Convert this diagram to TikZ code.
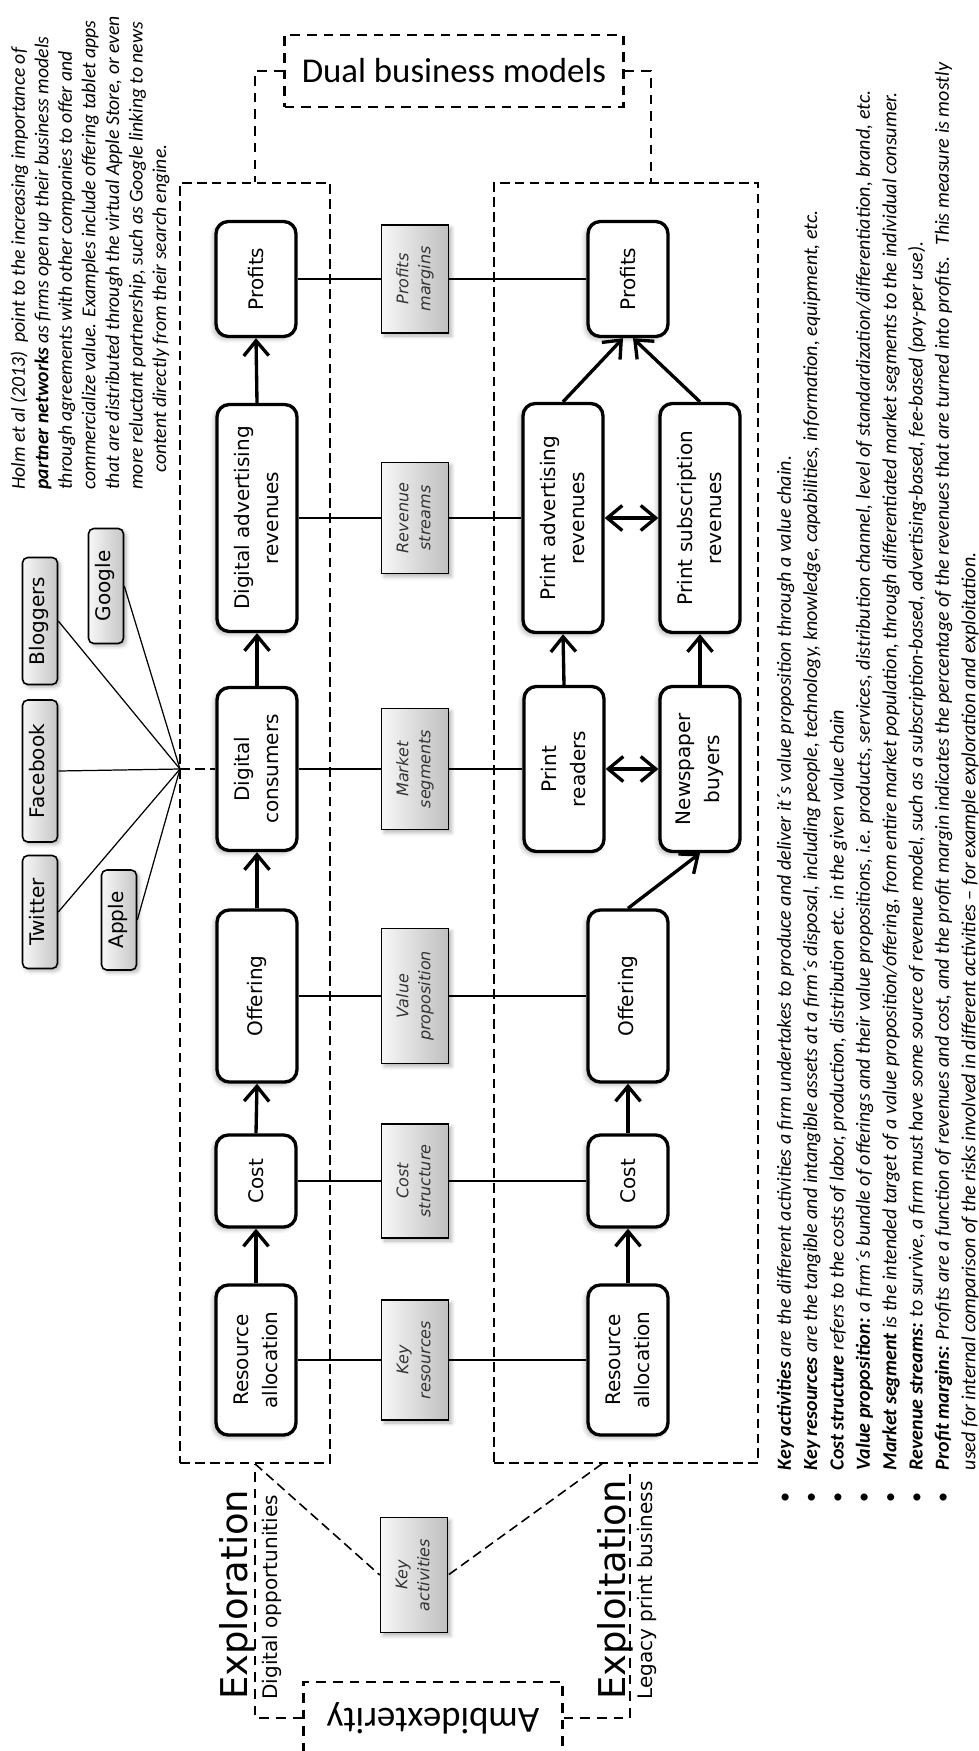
\documentclass[tikz,border=0pt]{standalone}
\usepackage{fontspec}
\usepackage{graphicx}
\setmainfont{DejaVu Sans}
\newfontfamily\calfont{Carlito}
\usetikzlibrary{arrows.meta,calc,shadows.blur}

\newcommand{\turntext}[1]{\rotatebox{90}{\begin{tabular}{@{}c@{}}#1\end{tabular}}}

\tikzset{
  stage/.style={draw, line width=1.9pt, rounded corners=7pt, fill=white, rotate=90,
    align=center, font=\fontsize{11.4}{16.5}\selectfont, minimum height=1.6cm, inner sep=2pt,
    blur shadow={shadow xshift=-0.6mm, shadow yshift=-0.6mm, shadow opacity=25, shadow blur steps=5}},
  metric/.style={draw, line width=0.8pt, left color=gray!6, right color=gray!50,
    font=\fontsize{9.1}{12.5}\selectfont\itshape, text=black!80,
    minimum width=1.34cm, inner sep=1pt,
    blur shadow={shadow xshift=0.6mm, shadow yshift=-0.6mm, shadow opacity=30, shadow blur steps=5}},
  partner/.style={draw, line width=0.9pt, rounded corners=3pt, left color=gray!6,
    right color=gray!45, font=\fontsize{11.4}{14}\selectfont, minimum width=0.7cm, inner sep=1pt,
    blur shadow={shadow xshift=0.5mm, shadow yshift=-0.5mm, shadow opacity=30, shadow blur steps=4}},
  zone/.style={draw, line width=0.9pt, dash pattern=on 5.5pt off 3pt},
  headbox/.style={draw, line width=1.3pt, dash pattern=on 5.5pt off 4pt, minimum height=1.44cm,
    font=\calfont\fontsize{19.8}{23}\selectfont},
  bigdash/.style={line width=1.3pt, dash pattern=on 5.5pt off 4pt},
  smalldash/.style={line width=0.9pt, dash pattern=on 5.5pt off 3pt},
  flow/.style={line width=1.9pt, -{Straight Barb[length=3mm, width=5mm]}},
  twoway/.style={line width=1.9pt, {Straight Barb[length=3mm, width=5mm]}-{Straight Barb[length=3mm, width=5mm]}},
  rowlink/.style={line width=0.7pt},
  sidelabel/.style={rotate=90, anchor=base west, inner sep=0pt}
}

\begin{document}
\begin{tikzpicture}[x=0.2mm, y=-0.2mm]
  \useasboundingbox (0,0) rectangle (979,1751);

  % Dashed regions
  \node[zone, minimum width=3cm, minimum height=25.6cm] (explore) at (255,823) {};
  \node[zone, minimum width=5.28cm, minimum height=25.6cm] (exploit) at (626,823) {};

  % Headline boxes
  \node[headbox, minimum width=6.78cm] (dual) at (454,71) {Dual business models};
  \node[headbox, rotate=180, minimum width=5.18cm, font=\calfont\fontsize{21}{24}\selectfont] (ambi) at (433,1718) {Ambidexterity};

  % Exploration: digital business
  \node[stage, minimum width=2.3cm] (profd) at (256,279) {Profits};
  \node[stage, minimum width=4.54cm] (advd) at (257,518) {Digital advertising\\revenues};
  \node[stage, minimum width=3.26cm] (consd) at (257,769) {Digital\\consumers};
  \node[stage, minimum width=3.44cm] (offd) at (257,996) {Offering};
  \node[stage, minimum width=1.84cm] (costd) at (256,1181) {Cost};
  \node[stage, minimum width=3cm] (resd) at (256,1360) {Resource\\allocation};

  % Exploitation: print business
  \node[stage, minimum width=2.3cm] (profp) at (628,279) {Profits};
  \node[stage, minimum width=4.58cm] (advp) at (563,518) {Print advertising\\revenues};
  \node[stage, minimum width=4.58cm] (subp) at (700,518) {Print subscription\\revenues};
  \node[stage, minimum width=3.3cm] (readp) at (564,769) {Print\\readers};
  \node[stage, minimum width=3.3cm] (buyp) at (700,769) {Newspaper\\buyers};
  \node[stage, minimum width=3.44cm] (offp) at (628,996) {Offering};
  \node[stage, minimum width=1.84cm] (costp) at (628,1181) {Cost};
  \node[stage, minimum width=3cm] (resp) at (628,1360) {Resource\\allocation};

  % Business model elements
  \node[metric, minimum height=2.16cm] (gprof) at (415,279) {\turntext{Profits\\margins}};
  \node[metric, minimum height=2.22cm] (grev) at (415,518) {\turntext{Revenue\\streams}};
  \node[metric, minimum height=2.42cm] (gmark) at (415,769) {\turntext{Market\\segments}};
  \node[metric, minimum height=2.7cm] (gval) at (415,996) {\turntext{Value\\proposition}};
  \node[metric, minimum height=2.28cm] (gcost) at (415,1181) {\turntext{Cost\\structure}};
  \node[metric, minimum height=2.4cm] (gres) at (415,1360) {\turntext{Key\\resources}};
  \node[metric, minimum height=2.3cm] (gact) at (414,1575) {\turntext{Key\\activities}};

  % Partner networks
  \node[partner, minimum height=2.26cm] (twitter) at (40,912) {\turntext{Twitter}};
  \node[partner, minimum height=2.84cm] (facebook) at (40,771) {\turntext{Facebook}};
  \node[partner, minimum height=2.54cm] (bloggers) at (40,621) {\turntext{Bloggers}};
  \node[partner, minimum height=2.3cm] (google) at (106,586) {\turntext{Google}};
  \node[partner, minimum height=2cm] (apple) at (119,920) {\turntext{Apple}};
  \coordinate (fan) at (180,769);
  \foreach \p in {twitter,facebook,bloggers,google,apple}
    \draw[rowlink] (fan) -- (\p.east);
  \draw[smalldash] (fan) -- (consd.north);

  % Value chain arrows
  \draw[flow] (resd.east) -- (costd.west);
  \draw[flow] (costd.east) -- (offd.west);
  \draw[flow] (offd.east) -- (consd.west);
  \draw[flow] (consd.east) -- (advd.west);
  \draw[flow] (advd.east) -- (profd.west);
  \draw[flow] (resp.east) -- (costp.west);
  \draw[flow] (costp.east) -- (offp.west);
  \draw[flow] (offp.east) -- (buyp.west);
  \draw[flow] (readp.east) -- (advp.west);
  \draw[flow] (buyp.east) -- (subp.west);
  \draw[flow] (advp.east) -- ($(profp.west)+(-5,0)$);
  \draw[flow] (subp.east) -- ($(profp.west)+(5,0)$);
  \draw[twoway] (advp.south) -- (subp.north);
  \draw[twoway] (readp.south) -- (buyp.north);

  % Rows through the elements
  \foreach \a/\g/\b in {profd/gprof/profp, advd/grev/advp, consd/gmark/readp,
                        offd/gval/offp, costd/gcost/costp, resd/gres/resp}
    \draw[rowlink] (\a.south) -- (\g.west) (\g.east) -- (\b.north);

  % Dual models and ambidexterity
  \draw[bigdash] (dual.west) -| (explore.north);
  \draw[bigdash] (dual.east) -| ($(exploit.north)+(25,0)$);
  \draw[bigdash] (ambi.east) -| (explore.south);
  \draw[bigdash] (ambi.west) -| ($(exploit.south)+(4,0)$);
  \draw[smalldash] (explore.south) -- (gact.west);
  \draw[smalldash] ($(exploit.south)+(-24,0)$) -- (gact.east);

  % Side labels
  \node[sidelabel, font=\fontsize{21}{25}\selectfont] (explorlab) at (247,1700) {Exploration};
  \node[sidelabel, font=\fontsize{11.4}{14}\selectfont] (digoplab) at (277,1700) {Digital opportunities};
  \node[sidelabel, font=\fontsize{21}{25}\selectfont] (exploitlab) at (625,1700) {Exploitation};
  \node[sidelabel, font=\fontsize{11.4}{14}\selectfont] (legacylab) at (652,1700) {Legacy print business};

  % Partner network note
  \node[rotate=90, anchor=north west, inner sep=0pt, font=\calfont\fontsize{11.2}{13.4}\selectfont\itshape]
    (holm) at (8,490) {\begin{tabular}{@{}l@{}}
    Holm et al (2013)~ point to the increasing importance of\\
    \textbf{partner networks} as firms open up their business models\\
    through agreements with other companies to offer and\\
    commercialize value. Examples include offering tablet apps\\
    that are distributed through the virtual Apple Store, or even\\
    more reluctant partnership, such as Google linking to news\\
    \hspace*{0.34cm}content directly from their search engine.
    \end{tabular}};

  % Definitions
  \node[rotate=90, anchor=north west, inner sep=0pt, font=\calfont\fontsize{11.4}{15}\selectfont\itshape]
    (defs) at (772,1503) {\begin{tabular}{@{}l@{\hspace{0.45cm}}l@{}}
    \upshape• & \textbf{Key activities} are the different activities a firm undertakes to produce and deliver it´s value proposition through a value chain.\\
    \upshape• & \textbf{Key resources} are the tangible and intangible assets at a firm´s disposal, including people, technology, knowledge, capabilities, information, equipment, etc.\\
    \upshape• & \textbf{Cost structure} refers to the costs of labor, production, distribution etc. in the given value chain\\
    \upshape• & \textbf{Value proposition:} a firm´s bundle of offerings and their value propositions, i.e. products, services, distribution channel, level of standardization/differentiation, brand, etc.\\
    \upshape• & \textbf{Market segment} is the intended target of a value proposition/offering, from entire market population, through differentiated market segments to the individual consumer.\\
    \upshape• & \textbf{Revenue streams:} to survive, a firm must have some source of revenue model, such as a subscription-based, advertising-based, fee-based (pay-per use).\\
    \upshape• & \textbf{Profit margins:} Profits are a function of revenues and cost, and the profit margin indicates the percentage of the revenues that are turned into profits.~ This measure is mostly\\
     & used for internal comparison of the risks involved in different activities – for example exploration and exploitation.
    \end{tabular}};
\end{tikzpicture}
\end{document}
